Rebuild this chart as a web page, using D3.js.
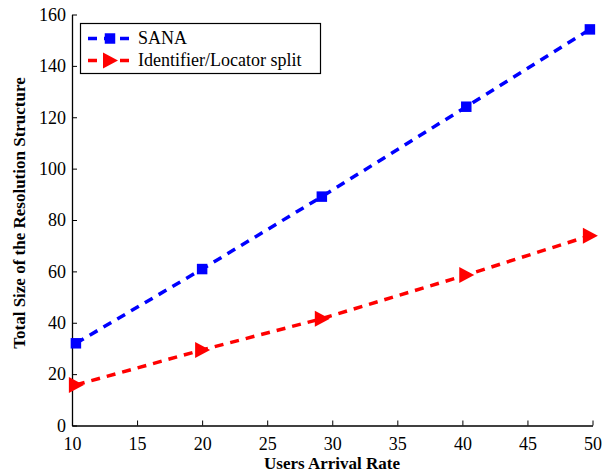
<!DOCTYPE html>
<html><head><meta charset="utf-8">
<script src="https://cdn.jsdelivr.net/npm/d3@7"></script>
<style>body{margin:0;background:#fff}svg{display:block}</style>
</head><body>
<svg id="c" width="605" height="476"></svg>
<script>
const xValues = [10.3, 20, 29.2, 40.3, 49.8];
const sanaValues = [32.0, 60.9, 89.1, 124.1, 154.2];
const idlocValues = [15.8, 29.4, 41.6, 58.6, 73.9];
const seriesNames = ["SANA", "Identifier/Locator split"];
const xTicks = [10, 15, 20, 25, 30, 35, 40, 45, 50];
const yTicks = [0, 20, 40, 60, 80, 100, 120, 140, 160];
const xTitle = "Users Arrival Rate";
const yTitle = "Total Size of the Resolution Structure";

const FONT = '"Liberation Serif"';
const K = 1.125; // render 16px text scaled to ~18px
const svg = d3.select("#c");
const x = d3.scaleLinear().domain([10, 50]).range([72, 592.5]);
const y = d3.scaleLinear().domain([0, 160]).range([425.5, 14.5]);

const gx = svg.append("g").attr("transform", `translate(0,${y(0)})`)
  .call(d3.axisBottom(x).tickValues(xTicks).tickSizeInner(-5).tickSizeOuter(0).tickPadding(12));
const gy = svg.append("g").attr("transform", `translate(${x(10)},0)`)
  .call(d3.axisLeft(y).tickValues(yTicks).tickSizeInner(-5).tickSizeOuter(0).tickPadding(6));
[gx, gy].forEach(g => {
  g.attr("font-family", null).attr("font-size", null);
  g.select(".domain").attr("stroke", "#000").attr("stroke-width", 1.3);
  g.selectAll(".tick line").attr("stroke", "#000").attr("stroke-width", 1);
  g.selectAll(".tick text").style("font-family", FONT).attr("font-size", 16).attr("fill", "#000")
    .attr("transform", `scale(${K})`);
});
gx.selectAll(".tick text").attr("y", 12 / K).attr("dy", "0.71em");
gy.selectAll(".tick text").attr("x", -6 / K).attr("dy", "0.32em");

svg.append("text").attr("transform", `translate(332,469) scale(1.0625)`).attr("text-anchor", "middle")
  .style("font-family", FONT).attr("font-weight", "bold").attr("font-size", 16).text(xTitle);
svg.append("text").attr("transform", `translate(25,213) rotate(-90) scale(1.0625)`).attr("text-anchor", "middle")
  .style("font-family", FONT).attr("font-weight", "bold").attr("font-size", 16).text(yTitle);

const line = d3.line().x((d, i) => x(xValues[i])).y(d => y(d));
const sq = d3.symbol().type(d3.symbolSquare).size(110);
const triPath = "M-7,-8L8,0L-7,8Z";

function drawSeries(vals, color, marker) {
  svg.append("path").datum(vals).attr("d", line).attr("fill", "none")
    .attr("stroke", color).attr("stroke-width", 3.5).attr("stroke-dasharray", "9,7");
  svg.selectAll(null).data(vals).enter().append("path")
    .attr("transform", (d, i) => `translate(${x(xValues[i])},${y(d)})`)
    .attr("d", marker).attr("fill", color);
}
drawSeries(sanaValues, "#0000ff", sq());
drawSeries(idlocValues, "#ff0000", triPath);

const lg = svg.append("g");
lg.append("rect").attr("x", 80.5).attr("y", 23.5).attr("width", 240).attr("height", 50)
  .attr("fill", "#fff").attr("stroke", "#000").attr("stroke-width", 1.2);
const items = [{n: seriesNames[0], c: "#0000ff", m: sq(), yy: 38.5}, {n: seriesNames[1], c: "#ff0000", m: triPath, yy: 60.5}];
items.forEach(it => {
  lg.append("line").attr("x1", 88).attr("x2", 134).attr("y1", it.yy).attr("y2", it.yy)
    .attr("stroke", it.c).attr("stroke-width", 3.5).attr("stroke-dasharray", "9,7");
  lg.append("path").attr("transform", `translate(110,${it.yy})`).attr("d", it.m).attr("fill", it.c);
  lg.append("text").attr("transform", `translate(138,${it.yy}) scale(${K})`).attr("dy", "0.33em")
    .style("font-family", FONT).attr("font-size", 16).attr("fill", "#000").text(it.n);
});
</script>
</body></html>
